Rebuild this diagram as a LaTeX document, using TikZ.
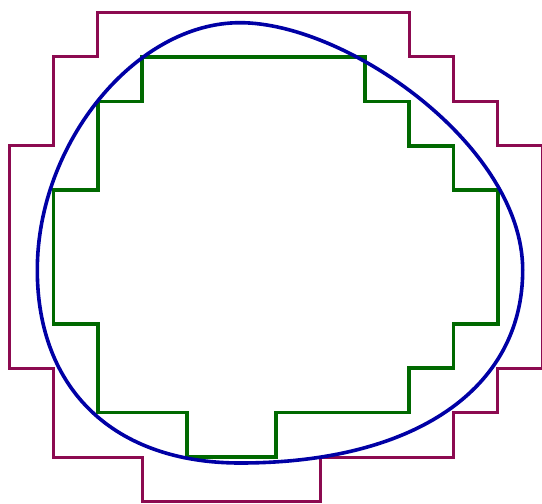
\documentclass[tikz,border=0pt]{standalone}
\definecolor{outerc}{RGB}{140,10,80}
\definecolor{innerc}{RGB}{0,105,0}
\definecolor{curvec}{RGB}{0,0,165}
\tikzset{
  outerline/.style={draw=outerc, line width=1.5pt, line join=miter},
  innerline/.style={draw=innerc, line width=1.9pt, line join=miter},
  curveline/.style={draw=curvec, line width=1.8pt},
}
\begin{document}
\begin{tikzpicture}[x=0.5pt, y=-0.5pt]
\useasboundingbox (0,0) rectangle (542,504);
\begin{scope}[shift={(9,12.5)}, scale=44.45]
\draw[outerline] (2,0) -- (9,0) -- (9,1) -- (10,1) -- (10,2) -- (11,2) -- (11,3) -- (12,3)
  -- (12,8) -- (11,8) -- (11,9) -- (10,9) -- (10,10) -- (7,10) -- (7,11) -- (3,11)
  -- (3,10) -- (1,10) -- (1,8) -- (0,8) -- (0,3) -- (1,3) -- (1,1) -- (2,1) -- cycle;
\draw[innerline] (3,1) -- (8,1) -- (8,2) -- (9,2) -- (9,3) -- (10,3) -- (10,4) -- (11,4)
  -- (11,7) -- (10,7) -- (10,8) -- (9,8) -- (9,9) -- (6,9) -- (6,10) -- (4,10)
  -- (4,9) -- (2,9) -- (2,7) -- (1,7) -- (1,4) -- (2,4) -- (2,2) -- (3,2) -- cycle;
\end{scope}
\draw[curveline] (240,22.7)
  .. controls (347.4,22.7) and (522.7,146.4) .. (522.7,270)
  .. controls (522.7,389.1) and (414.4,463) .. (240,463)
  .. controls (114.3,463) and (37.3,389.7) .. (37.3,270)
  .. controls (37.3,142.9) and (135.8,22.7) .. (240,22.7) -- cycle;
\end{tikzpicture}
\end{document}
